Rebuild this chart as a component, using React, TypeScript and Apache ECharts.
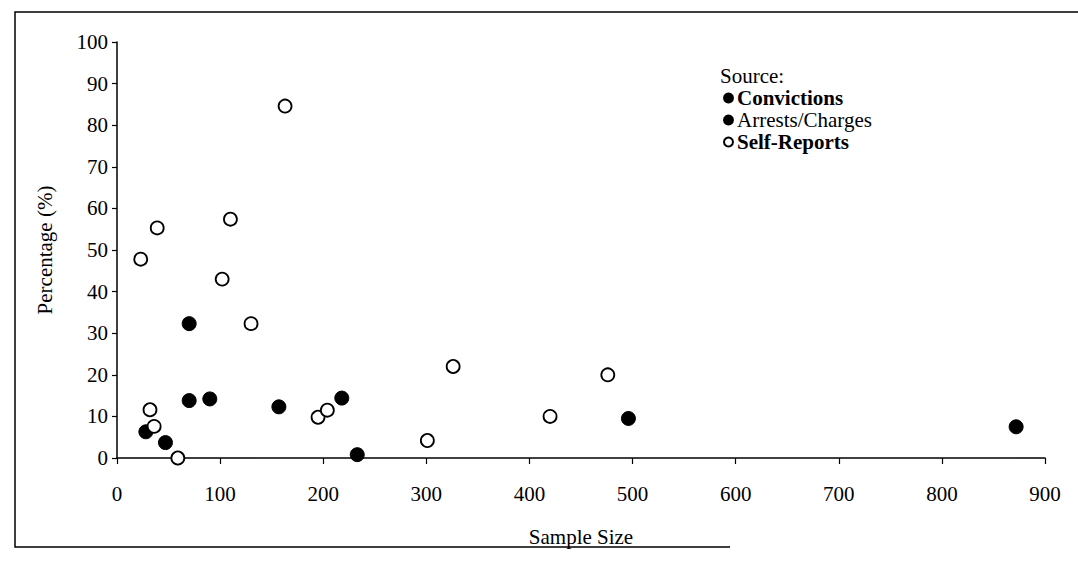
import React, { useEffect, useRef } from "react";
import * as echarts from "echarts";

const xTicks = [0, 100, 200, 300, 400, 500, 600, 700, 800, 900];
const yTicks = [0, 10, 20, 30, 40, 50, 60, 70, 80, 90, 100];

const seriesNames = ["Convictions", "Arrests/Charges", "Self-Reports"];

const convictions: [number, number][] = [
  [70, 32.3],
  [90, 14.2],
  [157, 12.3],
  [218, 14.4],
  [496, 9.5],
  [872, 7.5],
];

const arrestsCharges: [number, number][] = [
  [28, 6.3],
  [47, 3.7],
  [70, 13.8],
  [233, 0.8],
];

const selfReports: [number, number][] = [
  [23, 47.8],
  [39, 55.3],
  [110, 57.4],
  [102, 43],
  [130, 32.3],
  [163, 84.6],
  [32, 11.6],
  [36, 7.6],
  [59, 0],
  [195, 9.8],
  [204, 11.5],
  [301, 4.2],
  [326, 22],
  [420, 10],
  [476, 20],
];

const FONT = "'Liberation Serif', 'Times New Roman', serif";
const FS = 21;

export default function App() {
  const ref = useRef<HTMLDivElement>(null);
  useEffect(() => {
    if (!ref.current) return;
    const chart = echarts.init(ref.current, null, { renderer: "svg" });
    const axisLine = { show: true, lineStyle: { color: "#000", width: 1.5 } };
    chart.setOption({
      animation: false,
      backgroundColor: "#fff",
      textStyle: { fontFamily: FONT, color: "#000" },
      grid: { left: 117, right: 33, top: 42, bottom: 106, containLabel: false },
      xAxis: {
        type: "value",
        min: xTicks[0],
        max: xTicks[xTicks.length - 1],
        interval: 100,
        name: "Sample Size",
        nameLocation: "middle",
        nameGap: 68,
        nameTextStyle: { fontFamily: FONT, fontSize: FS, color: "#000" },
        axisLine,
        axisTick: { show: true, length: 6, lineStyle: { color: "#000", width: 1.2 } },
        axisLabel: { fontFamily: FONT, fontSize: FS, color: "#000", margin: 25 },
        splitLine: { show: false },
      },
      yAxis: {
        type: "value",
        min: yTicks[0],
        max: yTicks[yTicks.length - 1],
        interval: 10,
        name: "Percentage (%)",
        nameLocation: "middle",
        nameGap: 62,
        nameTextStyle: { fontFamily: FONT, fontSize: FS, color: "#000" },
        axisLine,
        axisTick: { show: true, length: 5, lineStyle: { color: "#000", width: 1.2 } },
        axisLabel: { fontFamily: FONT, fontSize: FS, color: "#000", margin: 9 },
        splitLine: { show: false },
      },
      legend: {
        orient: "vertical",
        left: 718,
        top: 82,
        itemWidth: 9,
        itemHeight: 9,
        itemGap: 0,
        icon: "circle",
        textStyle: {
          fontFamily: FONT,
          fontSize: FS,
          lineHeight: 22,
          color: "#000",
          padding: [0, 0, 0, -1],
        },
        data: [
          { name: seriesNames[0], textStyle: { fontWeight: "bold" } },
          { name: seriesNames[1] },
          { name: seriesNames[2], textStyle: { fontWeight: "bold" } },
        ],
      },
      graphic: [
        {
          type: "text",
          left: 720,
          top: 65,
          style: { text: "Source:", font: `${FS}px ${FONT}`, fill: "#000" },
        },
        {
          type: "polyline",
          shape: { points: [[1078, 12], [15, 12], [15, 547], [730, 547]] },
          style: { stroke: "#000", lineWidth: 1.5, fill: "none" },
        },
      ],
      series: [
        {
          name: seriesNames[0],
          type: "scatter",
          data: convictions,
          symbol: "circle",
          symbolSize: 14,
          itemStyle: { color: "#000", borderColor: "#000", borderWidth: 1, opacity: 1 },
        },
        {
          name: seriesNames[1],
          type: "scatter",
          data: arrestsCharges,
          symbol: "circle",
          symbolSize: 14,
          itemStyle: { color: "#000", borderColor: "#000", borderWidth: 1, opacity: 1 },
        },
        {
          name: seriesNames[2],
          type: "scatter",
          data: selfReports,
          symbol: "circle",
          symbolSize: 13,
          itemStyle: { color: "#fff", borderColor: "#000", borderWidth: 1.8, opacity: 1 },
        },
      ],
    });
    return () => chart.dispose();
  }, []);
  return (
    <div
      ref={ref}
      style={{ position: "fixed", left: 0, top: 0, width: 1078, height: 564, background: "#fff" }}
    />
  );
}
